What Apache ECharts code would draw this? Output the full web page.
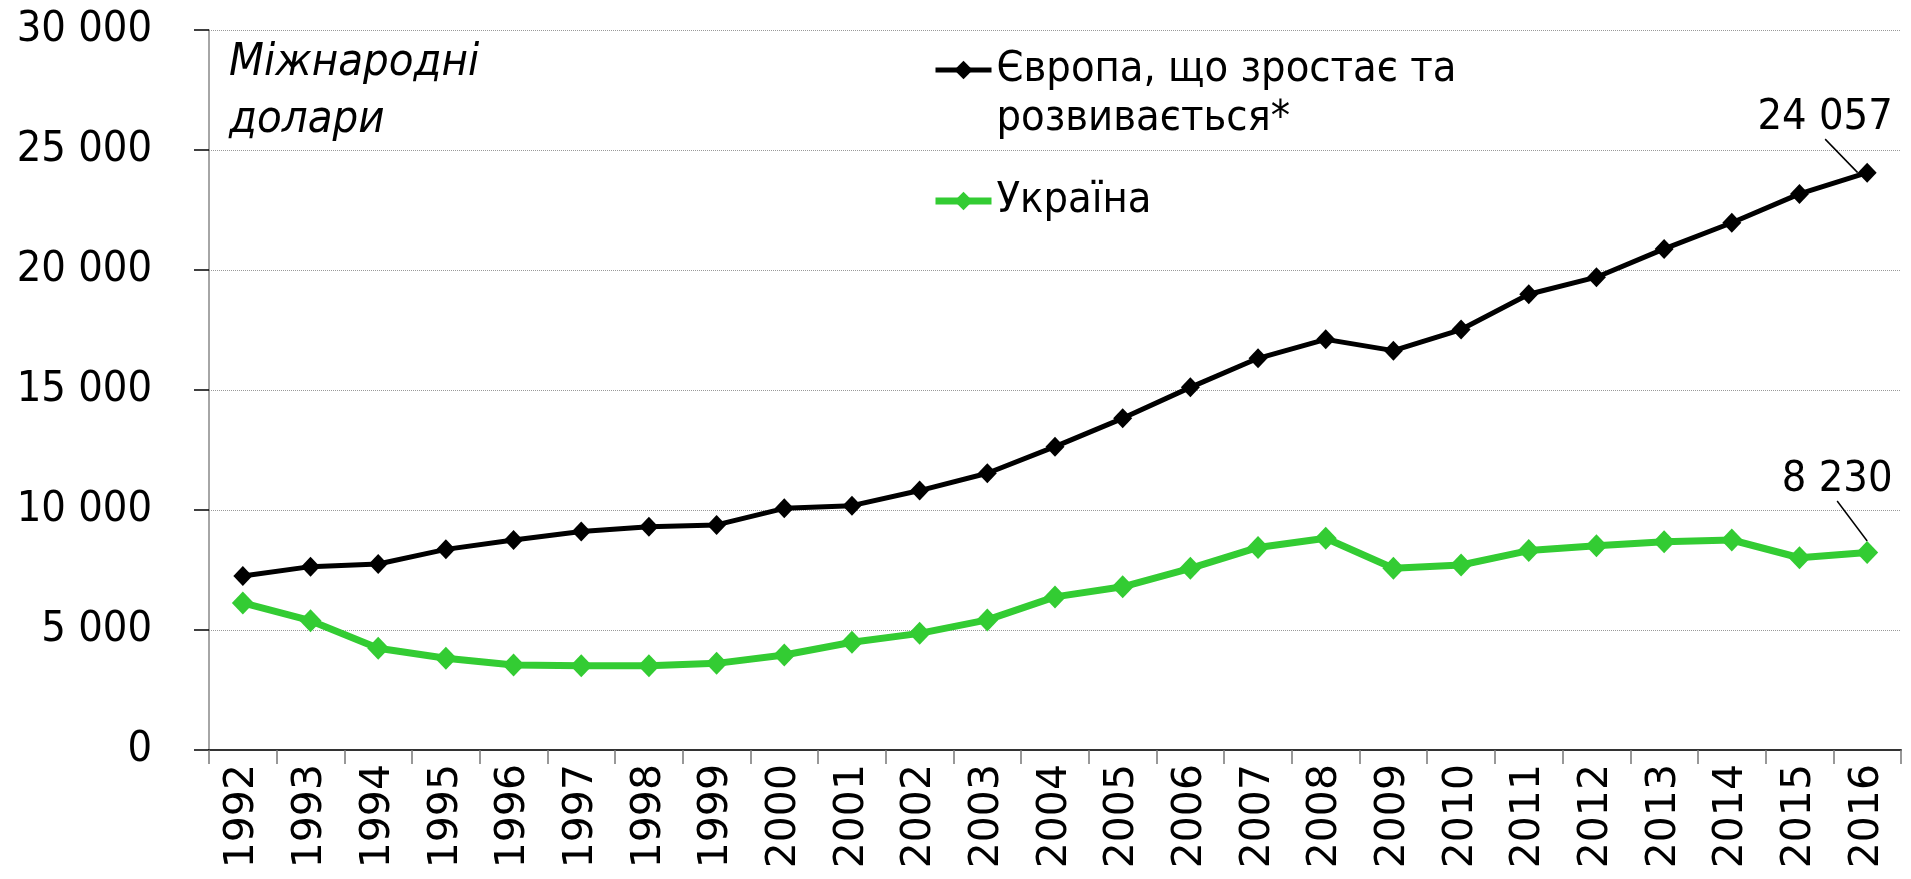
<!DOCTYPE html>
<html lang="uk">
<head>
    <meta charset="UTF-8">
    <title>ВВП на душу населення</title>
    <script src="https://cdn.jsdelivr.net/npm/echarts@6/dist/echarts.min.js"></script>
    <style>
        html, body { margin: 0; padding: 0; background: #fff; }
        #chart { width: 1911px; height: 879px; }
    </style>
</head>
<body>
    <div id="chart"></div>
    <script>
        // роки
        let years = ['1992', '1993', '1994', '1995', '1996', '1997', '1998', '1999', '2000', '2001', '2002', '2003', '2004',
            '2005', '2006', '2007', '2008', '2009', '2010', '2011', '2012', '2013', '2014', '2015', '2016'];
        // Європа, що зростає та розвивається (міжнародні долари)
        let europeValues = [7250, 7640, 7750, 8360, 8750, 9100, 9300, 9380, 10070, 10180, 10810, 11530, 12640,
            13820, 15110, 16320, 17110, 16640, 17520, 18990, 19700, 20880, 21970, 23170, 24057];
        // Україна
        let ukraineValues = [6130, 5390, 4240, 3820, 3540, 3510, 3510, 3610, 3960, 4490, 4860, 5420, 6380,
            6800, 7570, 8440, 8820, 7570, 7710, 8310, 8510, 8680, 8750, 8010, 8230];

        let europeName = 'Європа, що зростає та розвивається*';
        let ukraineName = 'Україна';

        let narrowFont = "'DejaVu Sans Condensed', 'DejaVu Sans', sans-serif";
        let wideFont = "'DejaVu Sans', Verdana, sans-serif";

        // пробіл як роздільник тисяч
        function fmt(v) {
            return String(v).replace(/\B(?=(\d{3})+(?!\d))/g, ' ');
        }

        // підпис лише для останньої точки
        function lastLabel(values) {
            return values.map(function (v, i) {
                if (i === values.length - 1) {
                    return { value: v, label: { show: true } };
                }
                return v;
            });
        }

        let chart = echarts.init(document.getElementById('chart'));
        let option = {
            animation: false,
            title: {
                text: 'Міжнародні\nдолари',
                left: 229,
                top: 35,
                padding: 0,
                textStyle: {
                    fontFamily: narrowFont,
                    fontSize: 45,
                    fontStyle: 'italic',
                    fontWeight: 'normal',
                    lineHeight: 57,
                    color: '#000'
                }
            },
            legend: {
                orient: 'vertical',
                left: 932,
                top: -3.5,
                padding: 0,
                itemWidth: 56,
                itemHeight: 23,
                itemGap: 33,
                selectedMode: false,
                data: [
                    { name: europeName, lineStyle: { width: 5, color: '#000' } },
                    { name: ukraineName, lineStyle: { width: 7, color: '#33cc33' } }
                ],
                formatter: function (name) {
                    if (name === europeName) {
                        return '\nЄвропа, що зростає та\nрозвивається*';
                    }
                    return name;
                },
                textStyle: {
                    fontFamily: narrowFont,
                    fontSize: 43,
                    lineHeight: 49,
                    color: '#000'
                }
            },
            grid: {
                left: 209,
                right: 10,
                top: 30,
                bottom: 129,
                containLabel: false,
                outerBoundsMode: 'none'
            },
            xAxis: {
                type: 'category',
                data: years,
                boundaryGap: true,
                axisLine: { lineStyle: { color: '#333', width: 2 } },
                axisTick: { show: true, length: 14, lineStyle: { color: '#777', width: 1.5 } },
                axisLabel: {
                    rotate: 90,
                    margin: 14,
                    fontFamily: wideFont,
                    fontSize: 41,
                    color: '#000'
                }
            },
            yAxis: {
                type: 'value',
                min: 0,
                max: 30000,
                interval: 5000,
                axisLine: { show: true, lineStyle: { color: '#888', width: 1.5 } },
                axisTick: { show: true, length: 15, lineStyle: { color: '#000', width: 1.5 } },
                splitLine: { lineStyle: { color: '#999', type: 'dotted', width: 1 } },
                axisLabel: {
                    margin: 57,
                    fontFamily: narrowFont,
                    fontSize: 43,
                    color: '#000',
                    formatter: fmt
                }
            },
            series: [
                {
                    name: europeName,
                    type: 'line',
                    data: lastLabel(europeValues),
                    symbol: 'diamond',
                    symbolSize: [19, 20],
                    showAllSymbol: true,
                    itemStyle: { color: '#000' },
                    lineStyle: { color: '#000', width: 5 },
                    label: {
                        show: false,
                        position: 'inside',
                        color: '#000',
                        fontFamily: narrowFont,
                        fontSize: 43,
                        formatter: function (p) { return fmt(p.value); }
                    },
                    labelLayout: { dx: -42, dy: -55 },
                    labelLine: { show: true, lineStyle: { color: '#000', width: 1.5 } },
                    emphasis: { disabled: true }
                },
                {
                    name: ukraineName,
                    type: 'line',
                    data: lastLabel(ukraineValues),
                    symbol: 'diamond',
                    symbolSize: [22, 23],
                    showAllSymbol: true,
                    itemStyle: { color: '#33cc33' },
                    lineStyle: { color: '#33cc33', width: 7 },
                    label: {
                        show: false,
                        position: 'inside',
                        color: '#000',
                        fontFamily: narrowFont,
                        fontSize: 43,
                        formatter: function (p) { return fmt(p.value); }
                    },
                    labelLayout: { dx: -30, dy: -73 },
                    labelLine: { show: true, lineStyle: { color: '#000', width: 1.5 } },
                    emphasis: { disabled: true }
                }
            ]
        };
        chart.setOption(option);
    </script>
</body>
</html>
